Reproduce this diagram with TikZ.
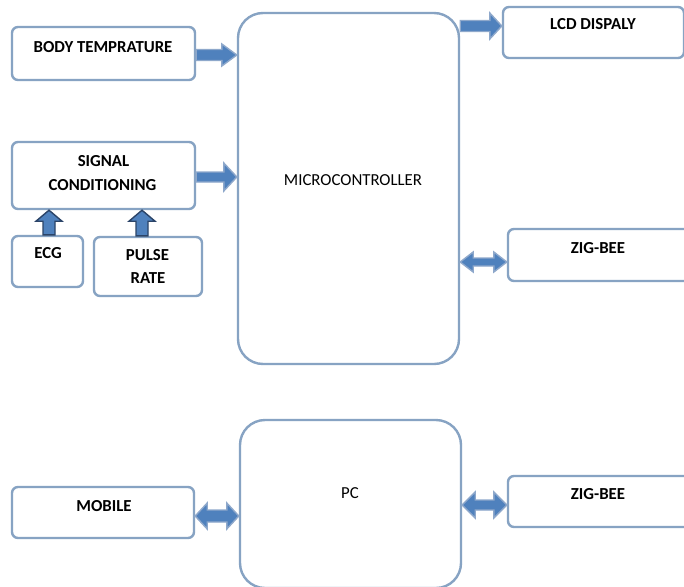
\documentclass[tikz,border=0pt]{standalone}
\usepackage{fontspec}
\setmainfont{Carlito}
\usetikzlibrary{calc}
\definecolor{boxline}{HTML}{87A3C3}
\definecolor{arrfill}{HTML}{4F81BD}
\definecolor{arrline}{HTML}{8EA8CB}
\definecolor{uparrline}{HTML}{2B4468}
\tikzset{
  box/.style={draw=boxline, line width=2.4pt, fill=white, rectangle, rounded corners=6pt, inner sep=0pt},
  bigbox/.style={box, rounded corners=25pt},
  lbl/.style={inner sep=0pt, font=\fontsize{16.8}{18}\selectfont\bfseries},
  plain/.style={inner sep=0pt, font=\fontsize{16.8}{18}\selectfont},
  fat/.style={fill=arrfill, draw=arrline, line width=1.4pt, line join=miter},
  fatup/.style={fill=arrfill, draw=uparrline, line width=1.4pt, line join=miter}
}
% right arrow: from #1 to #2 at height of #3; shaft half #4, head half #5, head length #6
\newcommand\ArrR[6]{\path[fat] let \p1=(#1),\p2=(#2),\p3=(#3) in
  (\x1,{\y3+#4}) -- ({\x2-#6},{\y3+#4}) -- ({\x2-#6},{\y3+#5}) -- (\x2,\y3)
  -- ({\x2-#6},{\y3-#5}) -- ({\x2-#6},{\y3-#4}) -- (\x1,{\y3-#4}) -- cycle;}
% double arrow
\newcommand\ArrD[6]{\path[fat] let \p1=(#1),\p2=(#2),\p3=(#3) in
  (\x1,\y3) -- ({\x1+#6},{\y3+#5}) -- ({\x1+#6},{\y3+#4}) -- ({\x2-#6},{\y3+#4}) -- ({\x2-#6},{\y3+#5}) -- (\x2,\y3)
  -- ({\x2-#6},{\y3-#5}) -- ({\x2-#6},{\y3-#4}) -- ({\x1+#6},{\y3-#4}) -- ({\x1+#6},{\y3-#5}) -- cycle;}
% up arrow: from #1 (bottom) to #2 (top) at x of #3
\newcommand\ArrU[6]{\path[fatup] let \p1=(#1),\p2=(#2),\p3=(#3) in
  ({\x3-#4},\y1) -- ({\x3-#4},{\y2-#6}) -- ({\x3-#5},{\y2-#6}) -- (\x3,\y2)
  -- ({\x3+#5},{\y2-#6}) -- ({\x3+#4},{\y2-#6}) -- ({\x3+#4},\y1) -- cycle;}
\begin{document}
\begin{tikzpicture}[x=1pt,y=-1pt]
\useasboundingbox (0,0) rectangle (684,586);
\clip (0,0) rectangle (684,586);
\fill[white] (0,0) rectangle (684,586);

% boxes
\node[box, minimum width=183pt, minimum height=53pt] (body) at (103.5,53.5) {};
\node[box, minimum width=183pt, minimum height=67pt] (signal) at (103.5,175.5) {};
\node[box, minimum width=71pt, minimum height=51pt] (ecg) at (47.5,261.5) {};
\node[box, minimum width=108pt, minimum height=59pt] (pulse) at (148,266.5) {};
\node[bigbox, minimum width=221pt, minimum height=351pt] (micro) at (348.5,188.5) {};
\node[box, minimum width=181pt, minimum height=51pt] (lcd) at (593.5,32.5) {};
\node[box, minimum width=182pt, minimum height=52pt] (zig1) at (599,255) {};
\node[bigbox, minimum width=221pt, minimum height=168pt] (pc) at (350.5,504) {};
\node[box, minimum width=182pt, minimum height=51pt] (mobile) at (103,512.5) {};
\node[box, minimum width=182pt, minimum height=51pt] (zig2) at (599,501.5) {};

% texts
\node[lbl] (tbody) at (103,47) {BODY TEMPRATURE};
\node[lbl] (tsig1) at (103.5,161) {SIGNAL};
\node[lbl] (tsig2) at (102.5,185) {CONDITIONING};
\node[lbl] (tecg) at (48,253.5) {ECG};
\node[lbl] (tpulse) at (147.5,255) {PULSE};
\node[lbl] (trate) at (148,278.5) {RATE};
\node[plain] (tmicro) at (353,180.5) {MICROCONTROLLER};
\node[lbl] (tlcd) at (593,24) {LCD DISPALY};
\node[lbl] (tzig1) at (598,248) {ZIG-BEE};
\node[plain] (tpc) at (350,493) {PC};
\node[lbl] (tmobile) at (104,506) {MOBILE};
\node[lbl] (tzig2) at (598,494.5) {ZIG-BEE};

% connector levels
\coordinate (y1) at (0,55);
\coordinate (y2) at (0,177);
\coordinate (y3) at (0,26);
\coordinate (y4) at (0,262);
\coordinate (y5) at (0,516);
\coordinate (y6) at (0,505);
\coordinate (x1) at (49,0);
\coordinate (x2) at (142,0);

% arrows
\ArrR{body.east}{micro.west}{y1}{5.5}{11}{15}
\ArrR{signal.east}{micro.west}{y2}{5}{14}{13}
\ArrR{micro.east}{lcd.west}{y3}{5.5}{13}{12}
\ArrD{micro.east}{zig1.west}{y4}{4}{10}{13}
\ArrD{mobile.east}{pc.west}{y5}{6}{13}{12}
\ArrD{pc.east}{zig2.west}{y6}{5}{13}{13}
\ArrU{ecg.north}{signal.south}{x1}{6}{13}{11}
\ArrU{pulse.north}{signal.south}{x2}{6}{13}{11}
\end{tikzpicture}
\end{document}
